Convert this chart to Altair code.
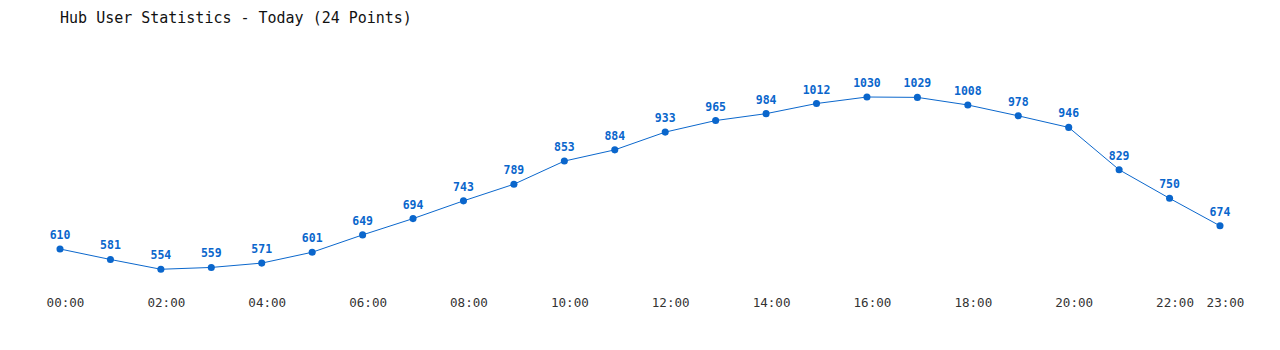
import altair as alt
import pandas as pd

hours = list(range(24))
users = [610, 581, 554, 559, 571, 601, 649, 694, 743, 789, 853, 884,
         933, 965, 984, 1012, 1030, 1029, 1008, 978, 946, 829, 750, 674]
tick_hours = [0, 2, 4, 6, 8, 10, 12, 14, 16, 18, 20, 22, 23]
title_text = "Hub User Statistics - Today (24 Points)"

df = pd.DataFrame({"hour": hours, "users": users})

BLUE = "#0a66cc"
FONT = "DejaVu Sans Mono"

x = alt.X("hour:Q", scale=alt.Scale(domain=[0, 23], nice=False, zero=False),
          axis=alt.Axis(values=tick_hours, title=None, grid=False, domain=False,
                        ticks=False, labelPadding=8, labelFont=FONT, labelFontSize=12.6,
                        labelColor="#333333", labelFlush=False, labelOffset=5,
                        labelExpr="(datum.value < 10 ? '0' : '') + datum.value + ':00'"))
y = alt.Y("users:Q", scale=alt.Scale(domain=[500, 1200], nice=False, zero=False),
          axis=None)

base = alt.Chart(df).encode(x=x, y=y)

line = base.mark_line(color=BLUE, strokeWidth=1)
points = base.mark_point(filled=True, color=BLUE, size=50, opacity=1)
labels = base.mark_text(color=BLUE, font=FONT, fontSize=11.5, fontWeight="bold",
                        dy=-13, baseline="middle").encode(text="users:Q")

chart = (line + points + labels).properties(
    width=1160, height=253.3,
    title=alt.TitleParams(title_text, anchor="start", font=FONT, fontSize=15,
                          fontWeight="normal", color="#111111", offset=9, dx=14),
    autosize=alt.AutoSizeParams(type="none"),
    padding={"left": 60, "top": 35.5, "right": 60, "bottom": 61},
).configure(background="white").configure_view(strokeOpacity=0, strokeWidth=0)

chart.save("out.html", embed_options={"renderer": "svg", "actions": False})
